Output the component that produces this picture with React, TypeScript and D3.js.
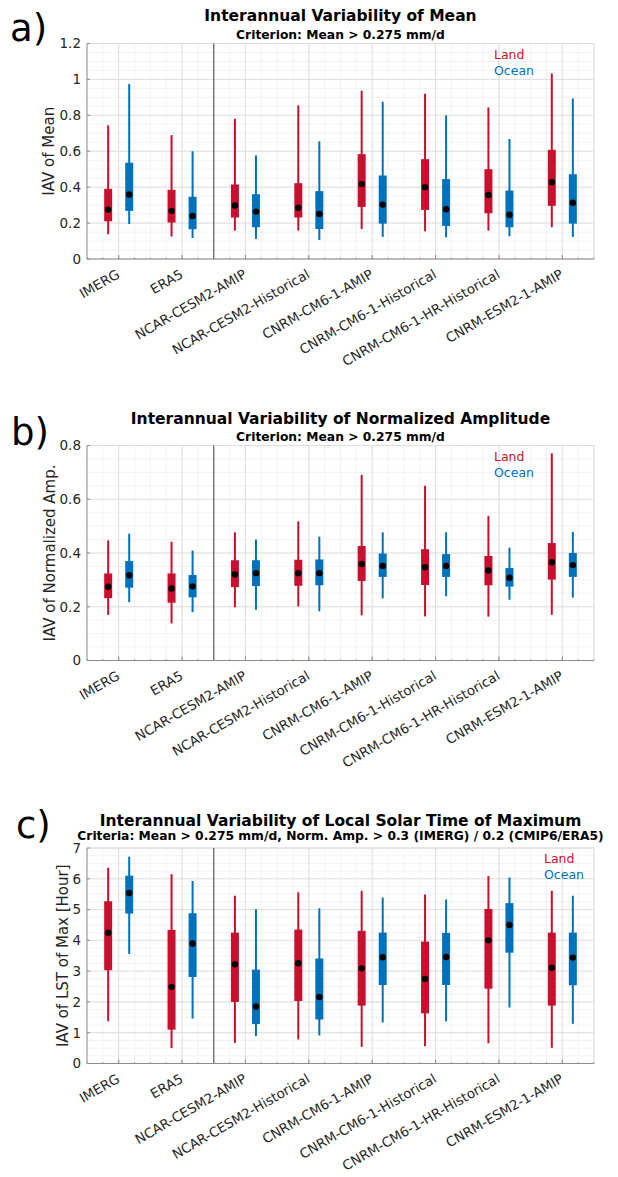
import React from 'react';
import * as d3 from 'd3';

const categories = [
  'IMERG',
  'ERA5',
  'NCAR-CESM2-AMIP',
  'NCAR-CESM2-Historical',
  'CNRM-CM6-1-AMIP',
  'CNRM-CM6-1-Historical',
  'CNRM-CM6-1-HR-Historical',
  'CNRM-ESM2-1-AMIP',
];

// [whisker low, q1, median, q3, whisker high]
const meanLand = [
  [0.138, 0.21, 0.275, 0.391, 0.744],
  [0.125, 0.203, 0.268, 0.385, 0.69],
  [0.158, 0.231, 0.298, 0.415, 0.781],
  [0.158, 0.231, 0.285, 0.422, 0.856],
  [0.167, 0.29, 0.417, 0.584, 0.937],
  [0.154, 0.273, 0.4, 0.556, 0.92],
  [0.158, 0.255, 0.357, 0.5, 0.844],
  [0.177, 0.296, 0.428, 0.608, 1.033],
];
const meanOcean = [
  [0.195, 0.268, 0.359, 0.536, 0.974],
  [0.117, 0.166, 0.24, 0.346, 0.6],
  [0.112, 0.177, 0.264, 0.361, 0.577],
  [0.106, 0.167, 0.251, 0.378, 0.655],
  [0.123, 0.197, 0.303, 0.465, 0.876],
  [0.121, 0.184, 0.277, 0.445, 0.8],
  [0.127, 0.177, 0.246, 0.381, 0.668],
  [0.123, 0.197, 0.313, 0.472, 0.894],
];
const ampLand = [
  [0.17, 0.232, 0.275, 0.324, 0.447],
  [0.138, 0.215, 0.268, 0.324, 0.442],
  [0.198, 0.273, 0.32, 0.373, 0.477],
  [0.201, 0.278, 0.325, 0.375, 0.518],
  [0.168, 0.296, 0.359, 0.426, 0.691],
  [0.164, 0.281, 0.347, 0.414, 0.65],
  [0.163, 0.28, 0.335, 0.389, 0.538],
  [0.17, 0.301, 0.366, 0.437, 0.771],
];
const ampOcean = [
  [0.217, 0.271, 0.317, 0.37, 0.472],
  [0.18, 0.235, 0.276, 0.318, 0.409],
  [0.189, 0.277, 0.325, 0.373, 0.45],
  [0.183, 0.28, 0.325, 0.376, 0.461],
  [0.231, 0.311, 0.352, 0.398, 0.477],
  [0.239, 0.311, 0.352, 0.396, 0.477],
  [0.226, 0.275, 0.308, 0.344, 0.42],
  [0.234, 0.311, 0.355, 0.4, 0.478],
];
const lstLand = [
  [1.37, 3.03, 4.25, 5.27, 6.36],
  [0.5, 1.1, 2.49, 4.34, 6.15],
  [0.67, 2.0, 3.22, 4.25, 5.45],
  [0.78, 2.03, 3.26, 4.35, 5.56],
  [0.54, 1.88, 3.09, 4.31, 5.61],
  [0.56, 1.63, 2.75, 3.96, 5.49],
  [0.66, 2.43, 4.0, 5.02, 6.09],
  [0.51, 1.88, 3.11, 4.25, 5.61],
];
const lstOcean = [
  [3.56, 4.87, 5.54, 6.1, 6.72],
  [1.46, 2.81, 3.9, 4.88, 5.93],
  [0.89, 1.28, 1.85, 3.05, 5.01],
  [0.91, 1.43, 2.16, 3.41, 5.04],
  [1.33, 2.55, 3.45, 4.25, 5.39],
  [1.37, 2.55, 3.46, 4.24, 5.33],
  [1.82, 3.6, 4.5, 5.21, 6.04],
  [1.29, 2.54, 3.44, 4.25, 5.45],
];

const meanTicks = [0, 0.2, 0.4, 0.6, 0.8, 1, 1.2];
const ampTicks = [0, 0.2, 0.4, 0.6, 0.8];
const lstTicks = [0, 1, 2, 3, 4, 5, 6, 7];

const LAND = '#C8102E';
const OCEAN = '#0072BD';
const TXT = '#262626';
const FONT = '"DejaVu Sans", sans-serif';
const X0 = 87;
const X1 = 594;

type PanelProps = {
  top: number;
  bottom: number;
  yMax: number;
  ticks: number[];
  minorStep: number;
  land: number[][];
  ocean: number[][];
  title: string;
  subtitle: string;
  ylabel: string;
  ylabelX: number;
  letter: string;
  letterX: number;
  letterY: number;
  titleY: number;
  subY: number;
  legendX: number;
};

function Panel(p: PanelProps) {
  const x = d3.scaleLinear().domain([0.5, categories.length + 0.5]).range([X0, X1]);
  const y = d3.scaleLinear().domain([0, p.yMax]).range([p.bottom, p.top]);
  const minorY = d3.range(0, p.yMax + 1e-9, p.minorStep);
  const minorX = d3.range(0.5, categories.length + 0.5 + 1e-9, 0.25);
  const off = 0.166;
  const fmt = (v: number) => String(+v.toFixed(2));
  const cx = (X0 + X1) / 2;

  const series = [
    { data: p.land, color: LAND, dx: -off },
    { data: p.ocean, color: OCEAN, dx: off },
  ];

  return (
    <g>
      {minorY.map((v, i) => (
        <line key={'my' + i} x1={X0} x2={X1} y1={y(v)} y2={y(v)} stroke="#efefef" strokeWidth={0.8} />
      ))}
      {minorX.map((v, i) => (
        <line key={'mx' + i} x1={x(v)} x2={x(v)} y1={p.top} y2={p.bottom} stroke="#efefef" strokeWidth={0.8} />
      ))}
      {p.ticks.map((v, i) => (
        <line key={'gy' + i} x1={X0} x2={X1} y1={y(v)} y2={y(v)} stroke="#dedede" strokeWidth={0.9} />
      ))}
      {categories.map((c, i) => (
        <line key={'gx' + i} x1={x(i + 1)} x2={x(i + 1)} y1={p.top} y2={p.bottom} stroke="#dedede" strokeWidth={0.9} />
      ))}
      <line x1={X0} x2={X1} y1={p.top} y2={p.top} stroke="#dddddd" strokeWidth={1} />
      <line x1={X1} x2={X1} y1={p.top} y2={p.bottom} stroke="#dddddd" strokeWidth={1} />
      <line x1={x(2.5)} x2={x(2.5)} y1={p.top} y2={p.bottom} stroke="#666666" strokeWidth={1.3} />

      {series.map((s, si) =>
        s.data.map((d, i) => {
          const xc = x(i + 1 + s.dx);
          return (
            <g key={'b' + si + '-' + i}>
              <line x1={xc} x2={xc} y1={y(d[0])} y2={y(d[4])} stroke={s.color} strokeWidth={2} />
              <rect x={xc - 4} width={8} y={y(d[3])} height={y(d[1]) - y(d[3])} fill={s.color} />
              <circle cx={xc} cy={y(d[2])} r={3.2} fill="#000" />
            </g>
          );
        })
      )}

      <line x1={X0} x2={X0} y1={p.top} y2={p.bottom} stroke="#8c8c8c" strokeWidth={1} />
      <line x1={X0} x2={X1} y1={p.bottom} y2={p.bottom} stroke="#8c8c8c" strokeWidth={1} />
      {minorX.map((v, i) => (
        <line key={'mt' + i} x1={x(v)} x2={x(v)} y1={p.bottom} y2={p.bottom - 1.5} stroke="#8c8c8c" strokeWidth={0.8} />
      ))}
      {categories.map((c, i) => (
        <line key={'xt' + i} x1={x(i + 1)} x2={x(i + 1)} y1={p.bottom} y2={p.bottom - 4} stroke="#8c8c8c" strokeWidth={1} />
      ))}
      {p.ticks.map((v, i) => (
        <line key={'yt' + i} x1={X0} x2={X0 + 3} y1={y(v)} y2={y(v)} stroke="#8c8c8c" strokeWidth={1} />
      ))}
      {p.ticks.map((v, i) => (
        <text key={'yl' + i} x={X0 - 6} y={y(v)} dy="0.36em" textAnchor="end" fontSize={13.5} fill={TXT} fontFamily={FONT}>
          {fmt(v)}
        </text>
      ))}
      {categories.map((c, i) => (
        <text
          key={'xl' + i}
          transform={`translate(${x(i + 1) + 2},${p.bottom + 18}) rotate(-30)`}
          textAnchor="end"
          fontSize={13.4}
          fill={TXT}
          fontFamily={FONT}
        >
          {c}
        </text>
      ))}
      <text
        transform={`translate(${p.ylabelX},${(p.top + p.bottom) / 2}) rotate(-90)`}
        textAnchor="middle"
        fontSize={15}
        fill={TXT}
        fontFamily={FONT}
      >
        {p.ylabel}
      </text>
      <text x={cx} y={p.titleY} textAnchor="middle" fontSize={15.5} fontWeight="bold" fill="#000" fontFamily={FONT}>
        {p.title}
      </text>
      <text x={cx} y={p.subY} textAnchor="middle" fontSize={12.3} fontWeight="bold" fill="#000" fontFamily={FONT}>
        {p.subtitle}
      </text>
      <text x={p.legendX} y={p.top + 15} fontSize={12.5} fill={LAND} fontFamily={FONT}>Land</text>
      <text x={p.legendX} y={p.top + 31} fontSize={12.5} fill={OCEAN} fontFamily={FONT}>Ocean</text>
      <text x={p.letterX} y={p.letterY} fontSize={37} fill="#000" fontFamily={FONT}>{p.letter}</text>
    </g>
  );
}

export default function App() {
  return (
    <svg
      width={618}
      height={1177}
      style={{ position: 'absolute', left: 0, top: 0, background: '#fff' }}
    >
      <rect width={618} height={1177} fill="#fff" />
      <Panel
        top={43.5}
        bottom={259}
        yMax={1.2}
        ticks={meanTicks}
        minorStep={0.05}
        land={meanLand}
        ocean={meanOcean}
        title="Interannual Variability of Mean"
        subtitle="Criterion: Mean > 0.275 mm/d"
        ylabel="IAV of Mean"
        ylabelX={54}
        letter="a)"
        letterX={10}
        letterY={41}
        titleY={21}
        subY={38.5}
        legendX={494}
      />
      <Panel
        top={445.5}
        bottom={660.5}
        yMax={0.8}
        ticks={ampTicks}
        minorStep={0.05}
        land={ampLand}
        ocean={ampOcean}
        title="Interannual Variability of Normalized Amplitude"
        subtitle="Criterion: Mean > 0.275 mm/d"
        ylabel="IAV of Normalized Amp."
        ylabelX={55}
        letter="b)"
        letterX={11}
        letterY={445}
        titleY={424}
        subY={441}
        legendX={494}
      />
      <Panel
        top={848}
        bottom={1063.5}
        yMax={7}
        ticks={lstTicks}
        minorStep={0.25}
        land={lstLand}
        ocean={lstOcean}
        title="Interannual Variability of Local Solar Time of Maximum"
        subtitle="Criteria: Mean > 0.275 mm/d, Norm. Amp. > 0.3 (IMERG) / 0.2 (CMIP6/ERA5)"
        ylabel="IAV of LST of Max [Hour]"
        ylabelX={68}
        letter="c)"
        letterX={16}
        letterY={838}
        titleY={826}
        subY={840}
        legendX={544}
      />
    </svg>
  );
}
